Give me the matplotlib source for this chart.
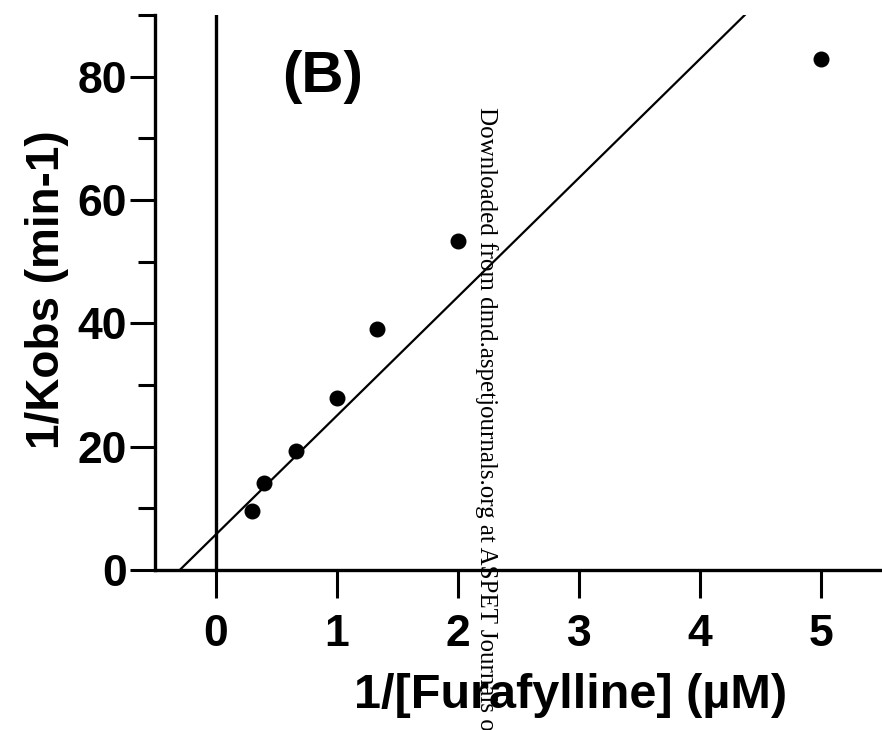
import numpy as np
import matplotlib
matplotlib.use("Agg")
import matplotlib.pyplot as plt
from matplotlib.ticker import MultipleLocator

# data
inv_conc = [0.3, 0.4, 0.667, 1.0, 1.333, 2.0, 5.0]        # 1/[Furafylline] (uM)
inv_kobs = [9.6, 14.1, 19.3, 27.9, 39.0, 53.4, 82.8]     # 1/Kobs (min-1)
fit_slope = 19.3
fit_intercept = 5.7
x_ticks = [0, 1, 2, 3, 4, 5]
y_ticks = [0, 20, 40, 60, 80]

font = "Liberation Sans"

fig = plt.figure(figsize=(8.82, 7.3), dpi=100)
ax = fig.add_axes([0.1757, 0.2192, 0.8243, 0.7603])

ax.set_xlim(-0.5, 5.5)
ax.set_ylim(0, 90)

# fitted line, starting at its x-intercept, clipped at the top
x0 = -fit_intercept / fit_slope
xs = np.array([x0, 5.5])
ax.plot(xs, fit_slope * xs + fit_intercept, color="black", lw=1.6, solid_capstyle="butt")

ax.scatter(inv_conc, inv_kobs, s=110, color="black", zorder=3)

# vertical line at x = 0 (continues below as the 0 tick)
ax.axvline(0, color="black", lw=2.4)

for s in ["top", "right"]:
    ax.spines[s].set_visible(False)
ax.spines["left"].set_linewidth(2.4)
ax.spines["bottom"].set_linewidth(2.4)

ax.set_xticks(x_ticks)
ax.set_yticks(y_ticks)
ax.yaxis.set_minor_locator(MultipleLocator(10))
ax.tick_params(axis="x", which="major", length=20, width=2.2, direction="out", pad=12)
ax.tick_params(axis="y", which="major", length=18, width=2.2, direction="out", pad=2)
ax.tick_params(axis="y", which="minor", length=12, width=2.2, direction="out")

for lab in ax.get_xticklabels() + ax.get_yticklabels():
    lab.set_fontfamily(font)
    lab.set_fontweight("bold")
    lab.set_fontsize(32)

ax.set_xlabel("1/[Furafylline] (\u00b5M)", fontfamily=font, fontweight="bold",
              fontsize=35, labelpad=8)
ax.xaxis.set_label_coords(0.572, -0.185)
ax.set_ylabel("1/Kobs (min-1)", fontfamily=font, fontweight="bold",
              fontsize=33, labelpad=10)
ax.yaxis.set_label_coords(-0.118, 0.505)

ax.text(0.55, 80, "(B)", fontfamily=font, fontweight="bold", fontsize=42,
        ha="left", va="center")

# repository watermark running down the page
fig.text(0.552, 0.853, "Downloaded from dmd.aspetjournals.org at ASPET Journals on",
         rotation=-90, fontfamily="Liberation Serif", fontsize=18,
         ha="center", va="top", color="black")

fig.savefig("out.png", dpi=100)
